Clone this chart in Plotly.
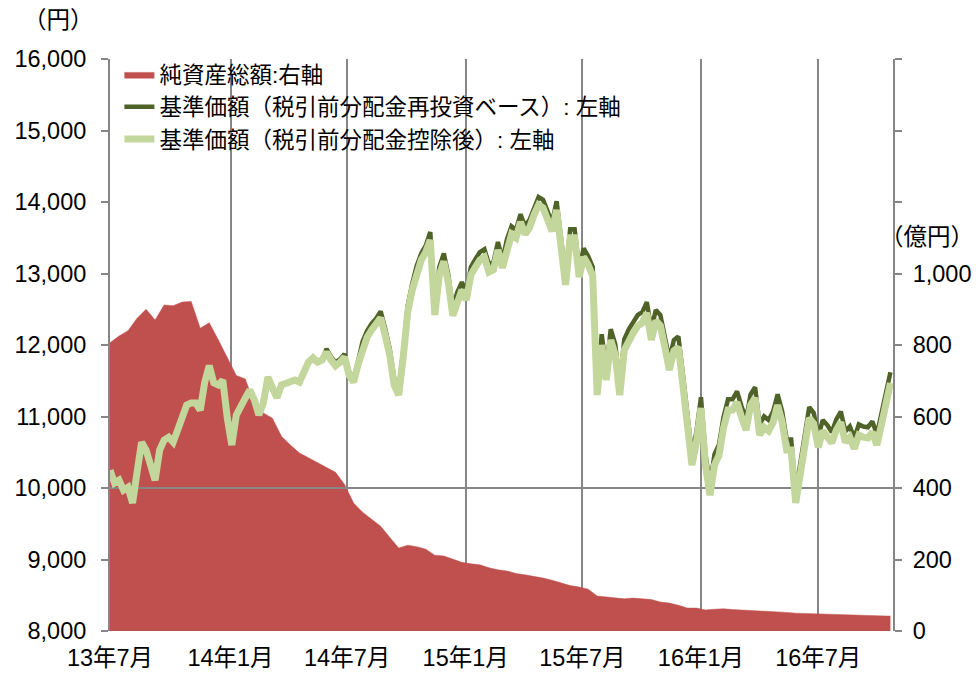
import pandas as pd
import plotly.graph_objects as go

# ---- data (weekly) ----
start_date = "2013-06-28"
n_weeks = 174
dates = pd.date_range(start_date, periods=n_weeks, freq="7D")

# 基準価額（税引前分配金控除後） [円]
nav_after = [
    10250, 10070, 10110, 9970, 10010, 9790, 10220, 10640, 10530, 10320,
    10110, 10530, 10670, 10710, 10640, 10810, 10980, 11160, 11190, 11190,
    11090, 11480, 11710, 11470, 11440, 11510, 10980, 10600, 11020, 11160,
    11260, 11370, 11230, 11020, 11190, 11550, 11370, 11260, 11440, 11470,
    11480, 11510, 11480, 11620, 11760, 11820, 11760, 11790, 11900, 11790,
    11710, 11760, 11830, 11580, 11480, 11730, 11960, 12110, 12210, 12280,
    12380, 12140, 11860, 11440, 11300, 11830, 12460, 12770, 13020, 13190,
    13300, 13470, 12420, 12980, 13170, 12870, 12410, 12630, 12770, 12630,
    12980, 13090, 13190, 13230, 13020, 13050, 13330, 13080, 13370, 13550,
    13500, 13720, 13550, 13640, 13820, 13960, 13920, 13750, 13590, 13890,
    13400, 12840, 13500, 13500, 12950, 13230, 13120, 12970, 11300, 12000,
    11510, 12070, 11860, 11300, 11930, 12070, 12170, 12270, 12310, 12450,
    12070, 12340, 12270, 11970, 11650, 11920, 11970, 11440, 10810, 10320,
    10640, 11120, 10320, 9900, 10320, 10460, 10840, 11090, 11090, 11200,
    10990, 10810, 11160, 11260, 10740, 10850, 10800, 10920, 11160, 10920,
    10530, 10530, 9790, 10220, 10640, 10980, 10900, 10570, 10800, 10730,
    10630, 10810, 10920, 10640, 10710, 10550, 10740, 10710, 10700, 10780,
    10600, 10880, 11190, 11470,
]

# 基準価額（税引前分配金再投資ベース） [円]
nav_reinvest = [
    10250, 10070, 10110, 9970, 10010, 9790, 10220, 10640, 10530, 10320,
    10110, 10530, 10670, 10710, 10640, 10810, 10980, 11160, 11190, 11190,
    11090, 11480, 11710, 11470, 11440, 11510, 10980, 10600, 11020, 11160,
    11260, 11370, 11230, 11020, 11190, 11550, 11370, 11260, 11440, 11470,
    11480, 11510, 11480, 11620, 11760, 11820, 11760, 11790, 11945, 11835,
    11755, 11805, 11875, 11625, 11525, 11775, 12050, 12200, 12300, 12370,
    12470, 12230, 11950, 11530, 11390, 11920, 12550, 12860, 13110, 13280,
    13390, 13580, 12530, 13090, 13280, 12980, 12520, 12740, 12880, 12740,
    13090, 13200, 13300, 13340, 13130, 13160, 13440, 13190, 13480, 13660,
    13610, 13830, 13660, 13750, 13930, 14070, 14030, 13870, 13710, 14010,
    13520, 12960, 13620, 13620, 13070, 13350, 13240, 13090, 11450, 12150,
    11660, 12220, 12010, 11450, 12080, 12220, 12320, 12420, 12460, 12600,
    12220, 12490, 12420, 12120, 11800, 12070, 12120, 11590, 10960, 10470,
    10790, 11270, 10470, 10050, 10470, 10610, 10990, 11240, 11240, 11350,
    11140, 10960, 11310, 11410, 10890, 11000, 10950, 11070, 11310, 11070,
    10680, 10680, 9940, 10370, 10790, 11130, 11050, 10720, 10950, 10880,
    10780, 10960, 11070, 10790, 10860, 10700, 10890, 10860, 10850, 10930,
    10750, 11030, 11340, 11620,
]

# 純資産総額 [億円] (bi-weekly + last date)
asset_dates = list(dates[::2]) + [dates[-1]]
net_assets = [
    806, 825, 840, 875, 900, 870, 912, 910, 920, 922,
    847, 862, 815, 765, 715, 705, 635, 610, 595, 545,
    520, 498, 485, 472, 459, 444, 410, 358, 332, 313,
    293, 262, 232, 240, 236, 229, 212, 210, 200, 192,
    188, 185, 177, 171, 168, 161, 157, 153, 148, 142,
    134, 127, 123, 117, 98, 95, 92, 90, 92, 91,
    88, 81, 78, 72, 64, 64, 59, 61, 62, 60,
    59, 57, 56, 55, 53, 52, 50, 49, 48, 48,
    47, 46, 45, 43, 42, 42, 42, 42,
]

x_tick_dates = [start_date, "2014-01-01", "2014-07-01", "2015-01-01",
                "2015-07-01", "2016-01-01", "2016-07-01"]
x_tick_text = ["13年7月", "14年1月", "14年7月", "15年1月",
               "15年7月", "16年1月", "16年7月"]
x_range_end = "2016-10-25"

left_range = [8000, 16000]
right_range = [0, 1600]
right_tickvals = [0, 200, 400, 600, 800, 1000, 1200, 1400, 1600]
right_ticktext = ["0", "200", "400", "600", "800", "1,000", "", "", ""]
base_level = 10000

RED = "#C0504D"
DARK = "#4F6228"
LIGHT = "#C3D69B"
GRAY = "#868686"
FONT = "Arial, 'Liberation Sans', 'Noto Sans CJK JP', sans-serif"
TICK_SIZE = 23.5

fig = go.Figure()

fig.add_trace(go.Scatter(
    x=asset_dates, y=net_assets, name="純資産総額:右軸",
    mode="lines", fill="tozeroy", fillcolor=RED,
    line=dict(color=RED, width=0.5), yaxis="y",
))
fig.add_trace(go.Scatter(
    x=[start_date, x_range_end], y=[base_level, base_level],
    mode="lines", line=dict(color=GRAY, width=2),
    showlegend=False, hoverinfo="skip", yaxis="y2",
))
fig.add_trace(go.Scatter(
    x=dates, y=nav_reinvest, name="基準価額（税引前分配金再投資ベース）: 左軸",
    mode="lines", line=dict(color=DARK, width=4.5), yaxis="y2",
))
fig.add_trace(go.Scatter(
    x=dates, y=nav_after, name="基準価額（税引前分配金控除後）: 左軸",
    mode="lines", line=dict(color=LIGHT, width=7), yaxis="y2",
))

fig.update_layout(
    width=976, height=673,
    margin=dict(l=110, r=83, t=59, b=42, autoexpand=False),
    paper_bgcolor="white", plot_bgcolor="white",
    font=dict(family=FONT, size=22, color="black"),
    showlegend=True,
    legend=dict(
        x=0.012, y=1.01, xanchor="left", yanchor="top",
        bgcolor="rgba(0,0,0,0)", font=dict(size=22.5),
        itemwidth=30, tracegroupgap=0,
    ),
    xaxis=dict(
        type="date", range=[start_date, x_range_end],
        tickvals=x_tick_dates, ticktext=x_tick_text,
        showgrid=True, gridcolor=GRAY, gridwidth=1.5,
        showline=False, ticks="", zeroline=False, automargin=False,
        tickfont=dict(size=TICK_SIZE), ticklabelstandoff=10,
    ),
    yaxis=dict(
        side="right", range=right_range,
        tickvals=right_tickvals, ticktext=right_ticktext,
        showgrid=False, zeroline=False, automargin=False,
        showline=True, linecolor=GRAY, linewidth=2,
        ticks="outside", ticklen=7, tickcolor=GRAY, tickwidth=1.5,
        tickfont=dict(size=TICK_SIZE), ticklabelstandoff=6,
    ),
    yaxis2=dict(
        side="left", overlaying="y", range=left_range,
        dtick=1000, tickformat=",", automargin=False,
        showgrid=False, zeroline=False,
        showline=True, linecolor=GRAY, linewidth=2,
        ticks="outside", ticklen=7, tickcolor=GRAY, tickwidth=1.5,
        tickfont=dict(size=TICK_SIZE), ticklabelstandoff=10,
    ),
    annotations=[
        dict(text="（円）", xref="paper", yref="paper",
             x=-0.066, y=1.068, xanchor="center", yanchor="middle",
             showarrow=False, font=dict(size=TICK_SIZE)),
        dict(text="（億円）", xref="paper", yref="paper",
             x=(976 - 110) / 783, y=0.689, xanchor="right", yanchor="middle",
             showarrow=False, font=dict(size=TICK_SIZE)),
    ],
)

fig.write_html("out.html")
